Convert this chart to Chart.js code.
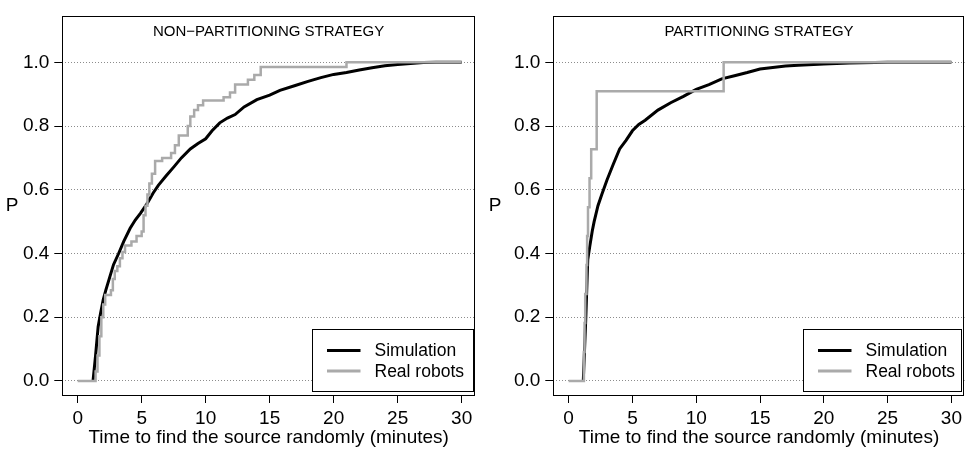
<!DOCTYPE html>
<html>
<head>
<meta charset="utf-8">
<script src="https://cdn.jsdelivr.net/npm/chart.js@4.4.1/dist/chart.umd.min.js"></script>
<style>
  html, body { margin: 0; padding: 0; background: #fff; }
  #wrap { position: relative; width: 966px; height: 449px; overflow: hidden; }
  #wrap canvas { position: absolute; top: 0; }
</style>
</head>
<body>
<div id="wrap">
  <canvas id="chartLeft" width="483" height="449" style="left:0"></canvas>
  <canvas id="chartRight" width="483" height="449" style="left:483px"></canvas>
</div>
<script>
// shared axes / labels
const xTicks = [0, 5, 10, 15, 20, 25, 30];
const yTicks = [0, 0.2, 0.4, 0.6, 0.8, 1.0];
const seriesLabels = ['Simulation', 'Real robots'];
const panelTitles = ['NON\u2212PARTITIONING STRATEGY', 'PARTITIONING STRATEGY'];
const xTitle = 'Time to find the source randomly (minutes)';
const yTitle = 'P';

// non-partitioning strategy
const nonPartSimTime = [1.2, 1.4, 1.6, 1.8, 2.0, 2.2, 2.5, 2.8, 3.2, 3.6, 4.1, 4.5, 4.9, 5.4, 5.9, 6.3, 6.9, 7.5, 8.1, 8.8, 9.4, 10, 10.5, 11.1, 11.7, 12.3, 13, 14, 15, 15.8, 17, 18, 19, 20, 21, 22, 23, 24, 25, 26, 27, 28, 30];
const nonPartSimP = [0, 0.08, 0.17, 0.215, 0.255, 0.285, 0.325, 0.365, 0.40, 0.438, 0.479, 0.505, 0.526, 0.555, 0.59, 0.614, 0.643, 0.671, 0.70, 0.728, 0.745, 0.76, 0.785, 0.81, 0.825, 0.836, 0.86, 0.883, 0.897, 0.912, 0.927, 0.94, 0.952, 0.962, 0.968, 0.976, 0.983, 0.989, 0.993, 0.996, 0.999, 1.0, 1.0];
const nonPartRobotTime = [0, 1.4, 1.55, 1.7, 1.85, 2.0, 2.15, 2.6, 2.75, 2.9, 3.1, 3.3, 3.5, 3.7, 4.2, 4.6, 5.0, 5.15, 5.3, 5.45, 5.6, 5.8, 6.05, 6.6, 7.3, 7.6, 7.9, 8.6, 8.8, 9.1, 9.4, 9.8, 11.4, 11.9, 12.3, 13.3, 13.8, 14.3, 21.0, 30];
const nonPartRobotP = [0, 0.03, 0.08, 0.14, 0.2, 0.24, 0.27, 0.285, 0.32, 0.345, 0.36, 0.385, 0.405, 0.425, 0.438, 0.455, 0.469, 0.52, 0.55, 0.585, 0.62, 0.65, 0.69, 0.70, 0.715, 0.74, 0.77, 0.80, 0.83, 0.85, 0.865, 0.88, 0.89, 0.905, 0.93, 0.945, 0.96, 0.985, 1.0, 1.0];

// partitioning strategy
const partSimTime = [1.15, 1.35, 1.5, 1.65, 1.85, 2.0, 2.3, 2.6, 3.0, 3.5, 4.0, 4.5, 5.0, 5.5, 6.0, 7.0, 8.0, 9.0, 10, 11, 12, 13, 14, 15, 16, 17, 18, 20, 22, 25, 30];
const partSimP = [0, 0.2, 0.38, 0.42, 0.47, 0.5, 0.55, 0.585, 0.63, 0.68, 0.728, 0.755, 0.785, 0.805, 0.818, 0.85, 0.873, 0.893, 0.915, 0.93, 0.948, 0.958, 0.968, 0.979, 0.984, 0.988, 0.991, 0.995, 0.998, 1.0, 1.0];
const partRobotTime = [0, 1.2, 1.25, 1.3, 1.4, 1.45, 1.52, 1.64, 1.77, 2.2, 12.15, 30];
const partRobotP = [0, 0.091, 0.182, 0.273, 0.364, 0.455, 0.545, 0.636, 0.727, 0.909, 1.0, 1.0];

const FONT = '"Liberation Sans", Arial, Helvetica, sans-serif';
const simColor = '#000000';
const robotColor = '#aaaaaa';

function toPoints(xs, ys) {
    return xs.map((x, i) => ({ x: x, y: ys[i] }));
}

// box round the plot, title inside, horizontal "P" and the legend box
const framePlugin = {
    id: 'frame',
    afterDatasetsDraw(chart, args, opts) {
        const ctx = chart.ctx;
        const a = chart.chartArea;
        ctx.save();
        ctx.strokeStyle = '#000';
        ctx.lineWidth = 1;
        ctx.setLineDash([]);
        ctx.strokeRect(Math.round(a.left) + 0.5, Math.round(a.top) + 0.5,
            Math.round(a.right - a.left) - 1, Math.round(a.bottom - a.top));

        ctx.fillStyle = '#000';
        ctx.textAlign = 'center';
        ctx.textBaseline = 'middle';
        ctx.font = '15px ' + FONT;
        ctx.fillText(opts.title, (a.left + a.right) / 2, a.top + 15);

        ctx.font = '19px ' + FONT;
        ctx.fillText(yTitle, 12, (a.top + a.bottom) / 2);

        // legend, bottom right
        const w = opts.legendWidth, h = 62;
        const lx = Math.round(a.right - opts.legendInset - w) + 0.5;
        const ly = Math.round(a.bottom - 4 - h) + 0.5;
        ctx.fillStyle = '#fff';
        ctx.fillRect(lx, ly, w, h);
        ctx.strokeStyle = '#000';
        ctx.lineWidth = 1;
        ctx.strokeRect(lx, ly, w, h);
        ctx.font = '17.5px ' + FONT;
        ctx.textAlign = 'left';
        chart.data.datasets.forEach((ds, i) => {
            const yy = ly + 21 + i * 20.5;
            ctx.strokeStyle = ds.borderColor;
            ctx.lineWidth = 3;
            ctx.beginPath();
            ctx.moveTo(lx + 14.5, yy);
            ctx.lineTo(lx + 48, yy);
            ctx.stroke();
            ctx.fillStyle = '#000';
            ctx.fillText(ds.label, lx + 62, yy + 1);
        });
        ctx.restore();
    }
};

function makePanel(canvasId, title, simX, simY, robX, robY, yAxisWidth, padRight, legendWidth, legendInset) {
    return new Chart(document.getElementById(canvasId), {
        type: 'line',
        data: {
            datasets: [{
                label: seriesLabels[0],
                data: toPoints(simX, simY),
                borderColor: simColor,
                borderWidth: 3,
                pointRadius: 0,
                fill: false,
                tension: 0,
                order: 2
            }, {
                label: seriesLabels[1],
                data: toPoints(robX, robY),
                borderColor: robotColor,
                borderWidth: 2.5,
                pointRadius: 0,
                fill: false,
                stepped: true,
                order: 1
            }]
        },
        options: {
            responsive: false,
            animation: false,
            devicePixelRatio: 1,
            layout: { padding: { top: 12.5, right: padRight, left: 0, bottom: 0 } },
            plugins: {
                legend: { display: false },
                tooltip: { enabled: false },
                frame: { title: title, legendWidth: legendWidth, legendInset: legendInset }
            },
            scales: {
                x: {
                    type: 'linear',
                    min: -1.2,
                    max: 31.04,
                    afterBuildTicks: s => { s.ticks = xTicks.map(v => ({ value: v })); },
                    afterFit: s => { s.height = 54; },
                    grid: { drawOnChartArea: false, drawTicks: true, tickLength: 8, tickColor: '#000', color: '#000' },
                    border: { display: false },
                    ticks: { color: '#000', font: { size: 19, family: FONT }, padding: 4, maxRotation: 0, autoSkip: false },
                    title: { display: true, text: xTitle, color: '#000', font: { size: 19, family: FONT }, padding: { top: 0, bottom: 0 } }
                },
                y: {
                    type: 'linear',
                    min: -0.044,
                    max: 1.144,
                    afterBuildTicks: s => { s.ticks = yTicks.map(v => ({ value: v })); },
                    afterFit: s => { s.width = yAxisWidth; },
                    grid: { color: '#8c8c8c', lineWidth: 1, tickLength: 8, tickColor: '#000', tickBorderDash: [] },
                    border: { display: false, dash: [1, 2] },
                    ticks: { color: '#000', font: { size: 19, family: FONT }, padding: 5, callback: v => v.toFixed(1) }
                }
            }
        },
        plugins: [framePlugin]
    });
}

makePanel('chartLeft', panelTitles[0], nonPartSimTime, nonPartSimP, nonPartRobotTime, nonPartRobotP, 62.3, 8, 161, 2);
makePanel('chartRight', panelTitles[1], partSimTime, partSimP, partRobotTime, partRobotP, 70.3, 0.5, 158, 4);
</script>
</body>
</html>
